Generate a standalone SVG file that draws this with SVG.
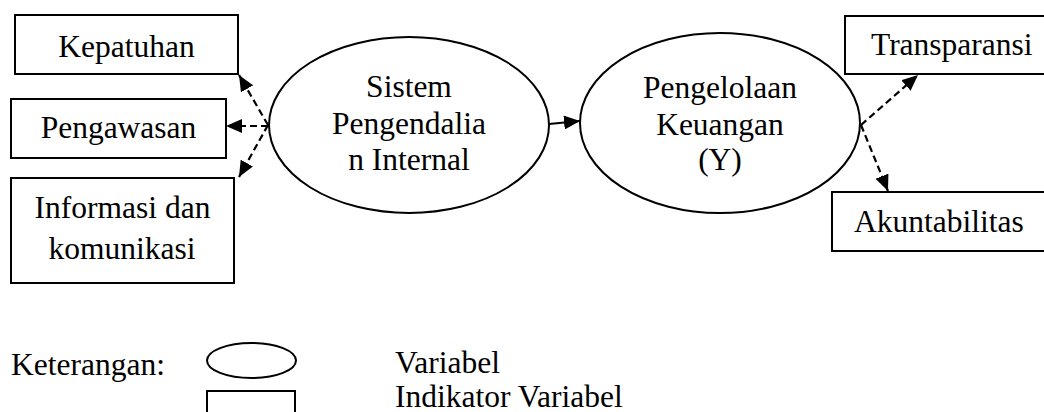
<svg xmlns="http://www.w3.org/2000/svg" width="1044" height="412" viewBox="0 0 1044 412">
<style>
.box{fill:#fff;stroke:#000;stroke-width:2}
.ell{fill:#fff;stroke:#000;stroke-width:2}
.t{font-family:"Liberation Serif","Times New Roman",serif;font-size:31.5px;fill:#000}
.c{text-anchor:middle}
.dash{stroke:#000;stroke-width:2.2;stroke-dasharray:7 4;fill:none}
.solid{stroke:#000;stroke-width:2.2;fill:none}
</style>
<defs>
<marker id="ah" markerUnits="userSpaceOnUse" markerWidth="17" markerHeight="14" refX="16" refY="7" orient="auto">
<path d="M0,0 L16,7 L0,14 z" fill="#000" stroke="none"/>
</marker>
</defs>
<rect width="1044" height="412" fill="#fff"/>
<g id="kepatuhan"><rect class="box" x="15" y="15" width="223" height="59"/><text class="t c" x="126.5" y="57">Kepatuhan</text></g>
<g id="pengawasan"><rect class="box" x="11" y="99" width="215" height="59"/><text class="t c" x="118.5" y="138">Pengawasan</text></g>
<g id="informasi"><rect class="box" x="11" y="178" width="223" height="105"/><text class="t c" x="122.5" y="218">Informasi dan</text><text class="t c" x="122" y="259">komunikasi</text></g>
<g id="spi"><ellipse class="ell" cx="409" cy="125" rx="140" ry="88"/><text class="t c" x="409" y="97">Sistem</text><text class="t c" x="409" y="134">Pengendalia</text><text class="t c" x="409" y="170">n Internal</text></g>
<g id="pk"><ellipse class="ell" cx="720" cy="123" rx="140" ry="90"/><text class="t c" x="720" y="98">Pengelolaan</text><text class="t c" x="720" y="135">Keuangan</text><text class="t c" x="720" y="170">(Y)</text></g>
<g id="transparansi"><rect class="box" x="845" y="16" width="210" height="58"/><text class="t" x="871" y="55">Transparansi</text></g>
<g id="akuntabilitas"><rect class="box" x="832" y="192" width="223" height="59"/><text class="t" x="854" y="232">Akuntabilitas</text></g>
<g id="connectors">
<line class="dash" x1="268" y1="125" x2="239" y2="75" marker-end="url(#ah)"/>
<line class="dash" x1="268" y1="126" x2="226" y2="126" marker-end="url(#ah)"/>
<line class="dash" x1="268" y1="125" x2="239" y2="177" marker-end="url(#ah)"/>
<line class="solid" x1="549" y1="124" x2="580" y2="121" marker-end="url(#ah)"/>
<line class="dash" x1="861" y1="125" x2="918" y2="75" marker-end="url(#ah)"/>
<line class="dash" x1="861" y1="125" x2="888" y2="191" marker-end="url(#ah)"/>
</g>
<g id="legend">
<text class="t" x="11" y="375">Keterangan:</text>
<ellipse class="ell" cx="251.5" cy="360.5" rx="44.5" ry="17.5"/>
<rect class="box" x="207" y="391" width="88" height="40"/>
<text class="t" x="395" y="373">Variabel</text>
<text class="t" x="395" y="407">Indikator Variabel</text>
</g>
</svg>
